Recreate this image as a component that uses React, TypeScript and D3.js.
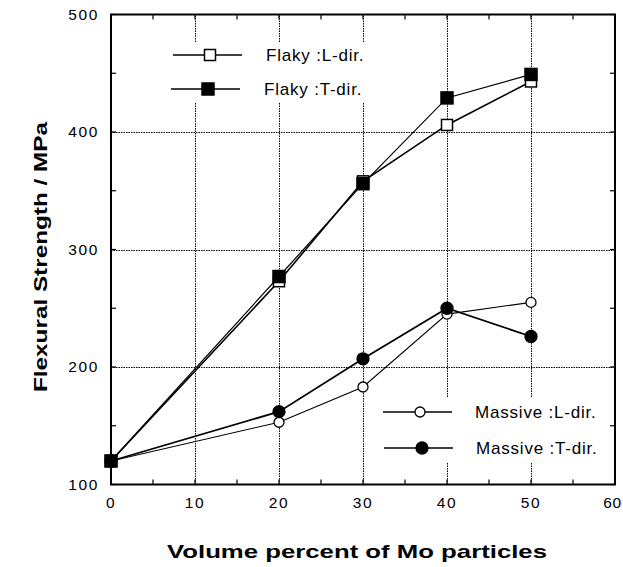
import * as d3 from "d3";
import { useEffect, useRef } from "react";

const volume = [0, 20, 30, 40, 50];
const flakyL = [120, 273, 358, 406, 443];
const flakyT = [120, 277, 356, 429, 449];
const massiveL = [120, 153, 183, 245, 255];
const massiveT = [120, 162, 207, 250, 226];
const xTicks = [0, 10, 20, 30, 40, 50, 60];
const yTicks = [100, 200, 300, 400, 500];

export default function App() {
  const svgRef = useRef<SVGSVGElement>(null);
  const width = 623;
  const height = 567;

  useEffect(() => {
    const svg = d3.select(svgRef.current);
    svg.selectAll("*").remove();
    const font = "'Liberation Sans', Arial, Helvetica, sans-serif";

    const x = d3.scaleLinear().domain([0, 60]).range([111, 615]);
    const y = d3.scaleLinear().domain([100, 500]).range([484.5, 14.5]);
    const px = (v: number) => Math.round(v) + 0.5;

    svg.append("rect").attr("width", width).attr("height", height).attr("fill", "#fff");

    // dotted grid
    const grid = svg.append("g").attr("stroke", "#000").attr("stroke-width", 1).attr("stroke-dasharray", "1.5 1");
    [10, 20, 30, 40, 50].forEach((v) => {
      grid.append("line").attr("x1", px(x(v))).attr("x2", px(x(v))).attr("y1", y(100)).attr("y2", y(500));
    });
    [200, 300, 400].forEach((v) => {
      grid.append("line").attr("y1", px(y(v))).attr("y2", px(y(v))).attr("x1", x(0)).attr("x2", x(60));
    });

    // legend backgrounds cover the grid
    svg.append("rect").attr("x", 170).attr("y", 42).attr("width", 215).attr("height", 60).attr("fill", "#fff");
    svg.append("rect").attr("x", 380).attr("y", 398).attr("width", 228).attr("height", 64).attr("fill", "#fff");

    // minor/major ticks, inward on all sides
    const ticks = svg.append("g").attr("stroke", "#000").attr("stroke-width", 1.2);
    d3.range(0, 61, 5).forEach((v) => {
      ticks.append("line").attr("x1", x(v)).attr("x2", x(v)).attr("y1", y(100)).attr("y2", y(100) - 5);
      ticks.append("line").attr("x1", x(v)).attr("x2", x(v)).attr("y1", y(500)).attr("y2", y(500) + 5);
    });
    d3.range(100, 501, 50).forEach((v) => {
      ticks.append("line").attr("y1", y(v)).attr("y2", y(v)).attr("x1", x(0)).attr("x2", x(0) + 5);
      ticks.append("line").attr("y1", y(v)).attr("y2", y(v)).attr("x1", x(60)).attr("x2", x(60) - 5);
    });

    // frame
    svg.append("rect")
      .attr("x", x(0)).attr("y", y(500))
      .attr("width", x(60) - x(0)).attr("height", y(100) - y(500))
      .attr("fill", "none").attr("stroke", "#000").attr("stroke-width", 2);

    // tick labels (last one pulled in so it stays on the page)
    svg.append("g").selectAll("text").data(xTicks).enter().append("text")
      .attr("x", (d) => (d === 60 ? 622 : x(d)))
      .attr("y", 508)
      .attr("text-anchor", (d) => (d === 60 ? "end" : "middle"))
      .attr("font-family", font).attr("font-size", 15.5)
      .attr("letter-spacing", (d) => (d === 60 ? 0.8 : 1.6))
      .text((d) => d);
    svg.append("g").selectAll("text").data(yTicks).enter().append("text")
      .attr("x", 99).attr("y", (d) => y(d)).attr("dy", "0.35em")
      .attr("text-anchor", "end").attr("font-family", font).attr("font-size", 15.5)
      .attr("letter-spacing", 1.6)
      .text((d) => d);

    // axis titles
    svg.append("text")
      .attr("x", 167).attr("y", 558)
      .attr("font-family", font).attr("font-size", 19)
      .attr("font-weight", "bold")
      .attr("textLength", 380).attr("lengthAdjust", "spacingAndGlyphs")
      .text("Volume percent of Mo particles");
    svg.append("text")
      .attr("transform", `translate(47, 392) rotate(-90)`)
      .attr("font-family", font).attr("font-size", 19)
      .attr("font-weight", "bold")
      .attr("textLength", 270).attr("lengthAdjust", "spacingAndGlyphs")
      .text("Flexural Strength / MPa");

    const series = [
      { vals: flakyL, shape: "square", filled: false, sw: 1.6 },
      { vals: flakyT, shape: "square", filled: true, sw: 1.2 },
      { vals: massiveL, shape: "circle", filled: false, sw: 1.1 },
      { vals: massiveT, shape: "circle", filled: true, sw: 1.7 },
    ];

    const line = d3.line<number>().x((_, i) => x(volume[i])).y((d) => y(d));

    series.forEach((s) => {
      svg.append("path").datum(s.vals).attr("d", line)
        .attr("fill", "none").attr("stroke", "#000").attr("stroke-width", s.sw);
    });

    const marker = (g: d3.Selection<SVGGElement, unknown, null, undefined>, cx: number, cy: number, shape: string, filled: boolean) => {
      if (shape === "square") {
        const sz = filled ? 12 : 11;
        g.append("rect").attr("x", cx - sz / 2).attr("y", cy - sz / 2).attr("width", sz).attr("height", sz)
          .attr("fill", filled ? "#000" : "#fff").attr("stroke", "#000").attr("stroke-width", 1.5);
      } else {
        g.append("circle").attr("cx", cx).attr("cy", cy).attr("r", filled ? 6 : 5)
          .attr("fill", filled ? "#000" : "#fff").attr("stroke", "#000").attr("stroke-width", 1.3);
      }
    };

    const marks = svg.append("g");
    series.forEach((s) => {
      s.vals.forEach((v, i) => marker(marks, x(volume[i]), y(v), s.shape, s.filled));
    });

    // legend
    const legend = [
      { label: "Flaky :L-dir.", x1: 173, x2: 242, mx: 210, my: 55, tx: 266, shape: "square", filled: false },
      { label: "Flaky :T-dir.", x1: 171, x2: 240, mx: 208, my: 89, tx: 264, shape: "square", filled: true },
      { label: "Massive :L-dir.", x1: 383, x2: 452, mx: 420, my: 412, tx: 475, shape: "circle", filled: false },
      { label: "Massive :T-dir.", x1: 384, x2: 453, mx: 422, my: 448, tx: 476, shape: "circle", filled: true },
    ];
    const lg = svg.append("g");
    legend.forEach((l) => {
      lg.append("line").attr("x1", l.x1).attr("x2", l.x2).attr("y1", l.my).attr("y2", l.my)
        .attr("stroke", "#000").attr("stroke-width", 1.3);
      marker(lg, l.mx, l.my, l.shape, l.filled);
      lg.append("text").attr("x", l.tx).attr("y", l.my).attr("dy", "0.35em")
        .attr("font-family", font).attr("font-size", 17).attr("letter-spacing", 0.8).text(l.label);
    });
  }, []);

  return (
    <svg
      ref={svgRef}
      width={width}
      height={height}
      style={{ position: "absolute", left: 0, top: 0, display: "block" }}
    ></svg>
  );
}
